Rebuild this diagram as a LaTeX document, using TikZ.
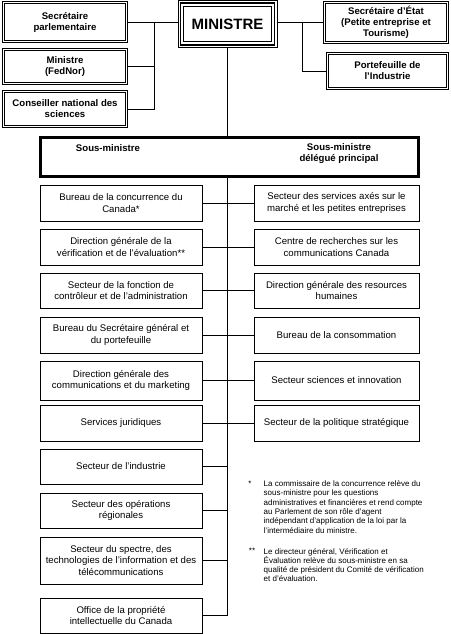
\documentclass[tikz,border=0pt]{standalone}
\usepackage{fontspec}
\setmainfont{Liberation Sans}
\usetikzlibrary{shadows}
\pgfdeclarelayer{background}
\pgfsetlayers{background,main}
\begin{document}
\begin{tikzpicture}[x=1pt,y=-1pt,
  txt/.style={font=\fontsize{9.6}{11.3}\selectfont},
  btxt/.style={font=\bfseries\fontsize{9.6}{11}\selectfont},
  topbox/.style={btxt, draw=black, line width=0.9pt, double=white, double distance=1.4pt,
    fill=white, align=center, inner sep=0pt, minimum width=123.5pt,
    drop shadow={shadow xshift=1.6pt, shadow yshift=-1.6pt, opacity=1, fill=black!50}},
  lowbox/.style={txt, draw=black, line width=0.9pt, fill=white, align=center, inner sep=0pt,
    drop shadow={shadow xshift=1.3pt, shadow yshift=-1.3pt, opacity=1, fill=black!50}},
  lbox/.style={lowbox, minimum width=162pt},
  rbox/.style={lowbox, minimum width=165pt},
  conn/.style={draw=black, line width=0.9pt},
  note/.style={font=\fontsize{8}{9.3}\selectfont, align=left, inner sep=0pt, anchor=north west}
]
\useasboundingbox (0,0) rectangle (450,634);

% MINISTRE
\node[draw=black, line width=0.9pt, fill=white, minimum width=99pt, minimum height=47pt,
  inner sep=0pt, font=\bfseries\fontsize{15}{17}\selectfont] (m) at (227.5,24) {MINISTRE};
\draw[line width=1.7pt] ([shift={(3,3)}]m.north west) rectangle ([shift={(-3,-3)}]m.south east);
\draw[line width=0.9pt] ([shift={(6,6)}]m.north west) rectangle ([shift={(-6,-6)}]m.south east);

% top left
\node[topbox, minimum height=38.5pt] (sp) at (65,22) {Secrétaire\\parlementaire};
\node[topbox, minimum height=34.5pt] (fed) at (65,66.5) {Ministre\\(FedNor)};
\node[topbox, minimum height=34.5pt] (cns) at (65,109) {Conseiller national des\\sciences};

% top right
\node[topbox, minimum height=39.5pt] (sde) at (386,22.5) {Secrétaire d'État\\(Petite entreprise et\\Tourisme)};
\node[topbox, minimum width=120.5pt, minimum height=34.5pt] (pi) at (387.5,71) {Portefeuille de\\l'Industrie};

\coordinate (lj) at (154,0);
\coordinate (rj) at (302,0);

% Sous-ministre
\node[draw=black, line width=2.2pt, fill=white, minimum width=378pt, minimum height=39pt, inner sep=0pt] (sm) at (229.5,157) {};
\node[btxt, inner sep=0pt] (smA) at (108,148) {Sous-ministre};
\node[btxt, inner sep=0pt, align=center] (smB) at (339,154) {Sous-ministre\\délégué principal};

% left column
\node[lbox, minimum height=36pt] (l1) at (121,203) {Bureau de la concurrence du\\Canada*};
\node[lbox, minimum height=36pt] (l2) at (121,247) {Direction générale de la\\vérification et de l'évaluation**};
\node[lbox, minimum height=35pt] (l3) at (121,290.5) {Secteur de la fonction de\\contrôleur et de l'administration};
\node[lbox, minimum height=36pt] (l4) at (121,335) {Bureau du Secrétaire général et\\du portefeuille};
\node[lbox, minimum height=39pt] (l5) at (121,380.5) {Direction générale des\\communications et du marketing};
\node[lbox, minimum height=36pt] (l6) at (121,423) {Services juridiques};
\node[lbox, minimum height=35pt] (l7) at (121,466.5) {Secteur de l'industrie};
\node[lbox, minimum height=35pt] (l8) at (121,510.5) {Secteur des opérations\\régionales};
\node[lbox, minimum height=47pt] (l9) at (121,560.5) {Secteur du spectre, des\\technologies de l'information et des\\télécommunications};
\node[lbox, minimum height=35pt] (l10) at (121,615.5) {Office de la propriété\\intellectuelle du Canada};

% right column
\node[rbox, minimum height=36pt] (r1) at (336.5,203) {Secteur des services axés sur le\\marché et les petites entreprises};
\node[rbox, minimum height=36pt] (r2) at (336.5,247) {Centre de recherches sur les\\communications Canada};
\node[rbox, minimum height=35pt] (r3) at (336.5,290.5) {Direction générale des resources\\humaines};
\node[rbox, minimum height=36pt] (r4) at (336.5,335) {Bureau de la consommation};
\node[rbox, minimum height=39pt] (r5) at (336.5,380.5) {Secteur sciences et innovation};
\node[rbox, minimum height=36pt] (r6) at (336.5,423) {Secteur de la politique stratégique};

% notes
\node[inner sep=0pt, font=\fontsize{8}{9.3}\selectfont] (s1) at (250,483.5) {*};
\node[note] (fn1) at (263.5,480.5) {La commissaire de la concurrence relève du\\sous-ministre pour les questions\\administratives et financières et rend compte\\au Parlement de son rôle d'agent\\indépendant d'application de la loi par la\\l'intermédiaire du ministre.};
\node[inner sep=0pt, font=\fontsize{8}{9.3}\selectfont] (s2) at (252,551) {**};
\node[note] (fn2) at (263.5,548) {Le directeur général, Vérification et\\Évaluation relève du sous-ministre en sa\\qualité de président du Comité de vérification\\et d'évaluation.};

\begin{pgfonlayer}{background}
\draw[conn] (sp.east) -- (sp.east -| m.west);
\draw[conn] (sp.east -| lj) |- (fed.east);
\draw[conn] (sp.east -| lj) |- (cns.east);
\draw[conn] (sde.west -| m.east) -- (sde.west);
\draw[conn] (sde.west -| rj) |- (pi.west);
\draw[conn] (m.south) -- (m.south |- l10.east);
\foreach \n in {l1,l2,l3,l4,l5,l6,l7,l8,l9,l10}{
  \draw[conn] (\n.east) -- (\n.east -| m.south);
}
\foreach \n in {r1,r2,r3,r4,r5,r6}{
  \draw[conn] (\n.west) -- (\n.west -| m.south);
}
\end{pgfonlayer}
\end{tikzpicture}
\end{document}
